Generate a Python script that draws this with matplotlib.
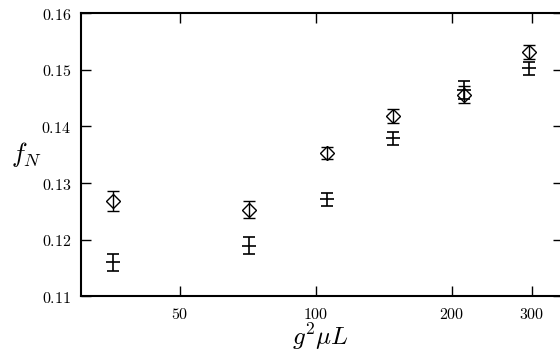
import numpy as np
import matplotlib.pyplot as plt
from matplotlib.ticker import FixedLocator, FixedFormatter, NullLocator

plt.rcParams['mathtext.fontset'] = 'cm'
plt.rcParams['font.family'] = 'serif'

# datos
x = [35.5, 71, 106, 148, 212, 296]
f_diamante = [0.1268, 0.1253, 0.1353, 0.1419, 0.1456, 0.1532]
err_diamante = [0.0018, 0.0015, 0.0011, 0.0012, 0.0015, 0.0013]
f_cruz = [0.1160, 0.1189, 0.1271, 0.1379, 0.1464, 0.1503]
err_cruz = [0.0015, 0.0015, 0.0012, 0.0012, 0.0016, 0.0012]

xticks = [50, 100, 200, 300]
yticks = [0.11, 0.12, 0.13, 0.14, 0.15, 0.16]

fig = plt.figure(figsize=(5.6, 3.54), dpi=100)
ax = fig.add_axes([0.1446, 0.1638, 0.8554, 0.7981])

ax.errorbar(x, f_diamante, yerr=err_diamante, fmt='D', mfc='none', mec='black',
            ms=7.5, mew=1.0, ecolor='black', elinewidth=1.0, capsize=4, capthick=1.0)
ax.errorbar(x, f_cruz, yerr=err_cruz, fmt='_', color='black',
            ms=10, mew=1.2, ecolor='black', elinewidth=1.2, capsize=4, capthick=1.0)

ax.set_xscale('log')
ax.set_xlim(30.2, 346.6)
ax.set_ylim(0.11, 0.16)

ax.xaxis.set_major_locator(FixedLocator(xticks))
ax.xaxis.set_major_formatter(FixedFormatter(['$%d$' % t for t in xticks]))
ax.xaxis.set_minor_locator(NullLocator())
ax.yaxis.set_major_locator(FixedLocator(yticks))
ax.yaxis.set_major_formatter(FixedFormatter(['$%.2f$' % t for t in yticks]))

ax.tick_params(axis='both', direction='in', length=7, width=1.0, labelsize=11.5,
               top=True, right=True)
ax.tick_params(axis='x', pad=7)
ax.tick_params(axis='y', pad=7)
ax.tick_params(axis='y', which='major', right=True)
for t in ax.yaxis.get_major_ticks():
    t.tick2line.set_markersize(5)

for lado in ['left', 'bottom', 'top']:
    ax.spines[lado].set_linewidth(1.5)
ax.spines['right'].set_visible(False)

ax.set_xlabel('$g^2\\mu L$', fontsize=18, labelpad=-1)
ax.set_ylabel('$f_N$', fontsize=19, rotation=0, ha='center', va='center')
ax.yaxis.set_label_coords(-0.113, 0.5)

fig.savefig('out.png', dpi=100)
